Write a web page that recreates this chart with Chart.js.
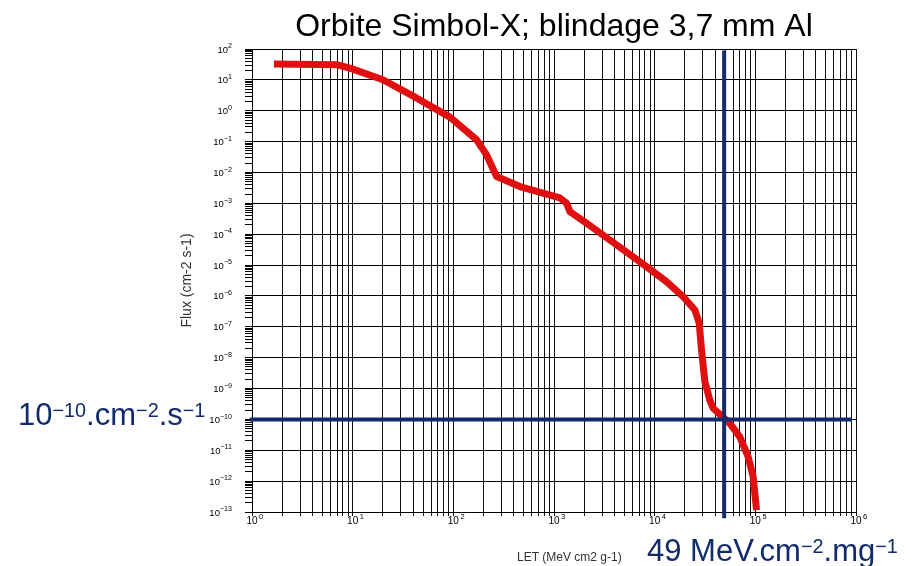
<!DOCTYPE html>
<html>
<head>
<meta charset="utf-8">
<title>Orbite Simbol-X</title>
<script src="https://cdn.jsdelivr.net/npm/chart.js@4.4.1/dist/chart.umd.min.js"></script>
<style>
  body { margin: 0; background: #fff; }
  canvas { display: block; }
</style>
</head>
<body>
<canvas id="fluxChart" width="917" height="566"></canvas>
<script>
// spectre LET integral, orbite Simbol-X derriere 3,7 mm d'Al
const letValues = [1.65, 6.9, 9.4, 20, 43, 92.5, 170, 214, 269, 458, 1143, 1334, 1438, 2100, 3590,
  8300, 13100, 19200, 25100, 27700, 29200, 31500, 35300, 38100, 55800, 70100, 84900, 95100, 102800];
const fluxValues = [32.6, 31, 24, 10.1, 2.6, 0.62, 0.115, 0.037, 0.0074, 0.0035, 0.0015, 0.001, 5.4e-4, 2.3e-4, 6.5e-5,
  8.9e-6, 2.9e-6, 9.4e-7, 3.5e-7, 1.3e-7, 1.8e-8, 1.7e-9, 4.2e-10, 2.3e-10, 7.4e-11, 2.7e-11, 6.1e-12, 1.4e-12, 1.15e-13];

// seuil : 1e-10 cm-2 s-1  ->  49 MeV.cm2/mg = 49000 MeV cm2 g-1
const fluxLimit = 1e-10;
const letLimit = 49000;
const fluxLimitLetSpan = [0.95, 9.1e5];
const letLimitFluxSpan = [90, 6.3e-14];

// decades affichees (exposants des graduations)
const xDecades = [0, 1, 2, 3, 4, 5, 6];
const yDecades = [-13, -12, -11, -10, -9, -8, -7, -6, -5, -4, -3, -2, -1, 0, 1, 2];

const fontFamily = "'Liberation Sans', Arial, sans-serif";
const navy = '#112b6b';
Chart.defaults.font.family = fontFamily;

// 1..9 x 10^n pour chaque decade, plus la derniere puissance
function logTicks(decades) {
  const out = [];
  decades.forEach((e, i) => {
    if (i === decades.length - 1) { out.push(Math.pow(10, e)); return; }
    for (let m = 1; m <= 9; m++) out.push(m * Math.pow(10, e));
  });
  return out;
}
const xTickValues = logTicks(xDecades);
const yTickValues = logTicks(yDecades);

function isDecade(v) {
  const l = Math.log10(v);
  return Math.abs(l - Math.round(l)) < 1e-6;
}

// texte avec exposants : [texte, exposant?]
function drawPowerText(ctx, parts, x, y, size, supScale, rise) {
  let cx = x;
  parts.forEach(([txt, sup]) => {
    ctx.font = (sup ? size * supScale : size) + 'px ' + fontFamily;
    ctx.fillText(txt, cx, sup ? y - size * rise : y);
    cx += ctx.measureText(txt).width;
  });
  return cx - x;
}
function powerWidth(ctx, parts, size, supScale) {
  let w = 0;
  parts.forEach(([txt, sup]) => {
    ctx.font = (sup ? size * supScale : size) + 'px ' + fontFamily;
    w += ctx.measureText(txt).width;
  });
  return w;
}

// etiquettes 10^n des axes, placees avec les echelles du graphique
const powerTicks = {
  id: 'powerTicks',
  afterDraw(chart) {
    const ctx = chart.ctx;
    const xs = chart.scales.x, ys = chart.scales.y;
    ctx.save();
    ctx.fillStyle = '#000';
    ctx.textBaseline = 'alphabetic';
    ctx.textAlign = 'left';
    yDecades.forEach(e => {
      const py = ys.getPixelForValue(Math.pow(10, e));
      const parts = [['10', false], [String(e).replace('-', '\u2212'), true]];
      const w = powerWidth(ctx, parts, 9.5, 0.75);
      drawPowerText(ctx, parts, ys.right - 20 - w, py + 3.5, 9.5, 0.75, 0.45);
    });
    xDecades.forEach(e => {
      const px = xs.getPixelForValue(Math.pow(10, e));
      ctx.font = '10px ' + fontFamily;
      const w = ctx.measureText('10').width;
      drawPowerText(ctx, [['10', false]], px - w / 2, xs.top + 12, 10, 0.75, 0);
      drawPowerText(ctx, [[String(e), true]], px + w / 2 + 1.5, xs.top + 12, 10, 0.75, 0.5);
    });
    ctx.restore();
  }
};

const annotations = {
  id: 'annotations',
  afterDraw(chart) {
    const ctx = chart.ctx;
    ctx.save();
    ctx.textBaseline = 'alphabetic';
    ctx.textAlign = 'left';
    ctx.fillStyle = '#333';
    ctx.font = '12px ' + fontFamily;
    ctx.fillText('LET (MeV cm2 g-1)', 517, 561);
    ctx.fillStyle = navy;
    drawPowerText(ctx, [['10', false], ['\u221210', true], ['.cm', false], ['\u22122', true], ['.s', false], ['\u22121', true]], 18, 425, 31, 0.64, 0.27);
    drawPowerText(ctx, [['49 MeV.cm', false], ['\u22122', true], ['.mg', false], ['\u22121', true]], 647, 561, 31, 0.64, 0.27);
    ctx.restore();
  }
};

new Chart(document.getElementById('fluxChart'), {
  type: 'line',
  data: {
    datasets: [
      {
        data: letValues.map((x, i) => ({ x: x, y: fluxValues[i] })),
        borderColor: '#e01010',
        borderWidth: 7,
        borderJoinStyle: 'round',
        pointRadius: 0,
        tension: 0,
        order: 1
      },
      {
        data: fluxLimitLetSpan.map(x => ({ x: x, y: fluxLimit })),
        borderColor: navy,
        borderWidth: 4,
        pointRadius: 0,
        clip: false,
        order: 0
      },
      {
        data: letLimitFluxSpan.map(y => ({ x: letLimit, y: y })),
        borderColor: navy,
        borderWidth: 4,
        pointRadius: 0,
        clip: false,
        order: 0
      }
    ]
  },
  options: {
    responsive: false,
    animation: false,
    layout: { padding: { left: 170, right: 61, top: 0, bottom: 0 } },
    plugins: {
      legend: { display: false },
      tooltip: { enabled: false },
      title: {
        display: true,
        fullSize: false,
        text: 'Orbite Simbol-X; blindage 3,7 mm Al',
        color: '#000',
        font: { size: 32, weight: 'normal' },
        padding: { top: 8, bottom: 2.6 }
      }
    },
    scales: {
      x: {
        type: 'logarithmic',
        min: 1,
        max: 1e6,
        afterBuildTicks: s => { s.ticks = xTickValues.map(v => ({ value: v })); },
        afterFit: s => { s.height = 54; },
        ticks: { display: false, autoSkip: false },
        grid: { color: '#111', tickColor: '#111', tickLength: 4, lineWidth: 1 },
        border: { color: '#000', width: 1 }
      },
      y: {
        type: 'logarithmic',
        min: 1e-13,
        max: 100,
        afterBuildTicks: s => { s.ticks = yTickValues.map(v => ({ value: v })); },
        afterFit: s => { s.width = 82; },
        ticks: { display: false, autoSkip: false },
        grid: {
          color: c => isDecade(c.tick.value) ? '#000' : 'rgba(0,0,0,0)',
          tickColor: '#000',
          tickLength: 7,
          lineWidth: 1
        },
        border: { color: '#000', width: 1 },
        title: {
          display: true,
          text: 'Flux (cm-2 s-1)',
          color: '#333',
          font: { size: 14 },
          padding: { top: 8.6, bottom: 0 }
        }
      }
    }
  },
  plugins: [powerTicks, annotations]
});
</script>
</body>
</html>
